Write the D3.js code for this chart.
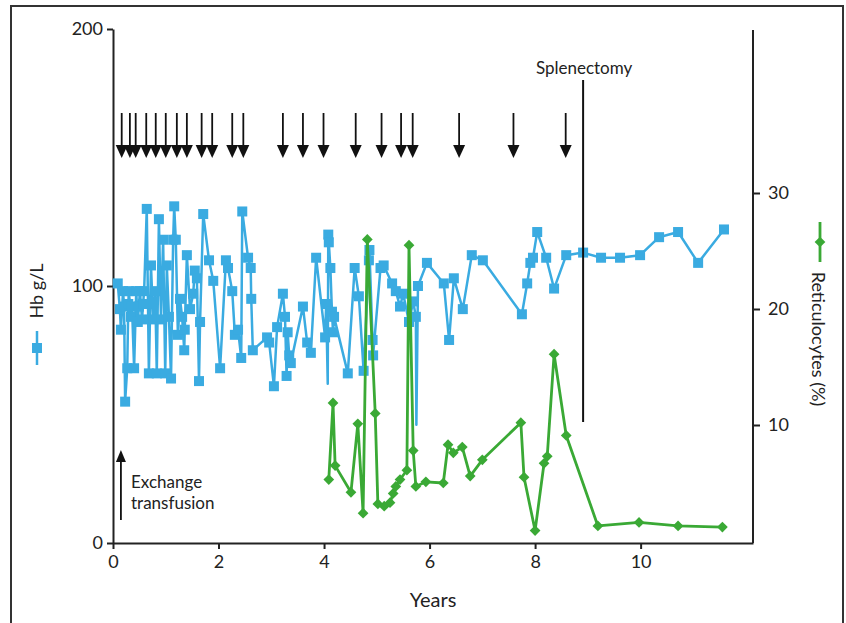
<!DOCTYPE html>
<html>
<head>
<meta charset="utf-8">
<script src="https://cdn.jsdelivr.net/npm/d3@7"></script>
<style>
  body { margin: 0; background: #fff; }
  text { font-family: Lato, "Open Sans", sans-serif; fill: #222; }
</style>
</head>
<body>
<svg id="chart" width="846" height="623"></svg>
<script>
// Hb (g/L) over years; years listed in hbLineOnly get the line but no marker
const hbYears = [0.09,0.13,0.15,0.19,0.21,0.23,0.27,0.29,0.30,0.34,0.36,0.40,0.44,0.47,0.49,0.51,0.55,0.57,0.59,0.64,0.68,0.72,0.76,0.80,0.83,0.87,
  0.91,0.95,0.99,1.02,1.06,1.10,1.14,1.16,1.19,1.23,1.27,1.31,1.35,1.36,1.40,1.46,1.52,1.55,1.59,1.63,
  1.65,1.71,1.82,1.90,2.03,2.14,2.18,2.26,2.31,2.37,2.43,2.45,2.56,2.61,2.62,2.65,2.92,2.96,3.05,3.11,
  3.22,3.26,3.29,3.31,3.34,3.37,3.60,3.68,3.75,3.85,4.02,4.04,4.07,4.08,4.09,4.12,4.15,4.17,4.19,4.45,
  4.58,4.66,4.75,4.85,4.86,4.92,4.93,5.07,5.13,5.29,5.36,5.44,5.50,5.61,5.69,5.74,5.75,5.78,5.95,6.27,
  6.37,6.46,6.63,6.80,7.01,7.75,7.85,7.91,7.96,8.04,8.21,8.36,8.59,8.91,9.25,9.61,9.99,10.35,10.71,11.09,11.58];
const hbValues = [101,91,83,98,92,55,68,93,98,88,92,68,98,86,92,98,87,93,98,130,66,108,87,98,66,126,
  87,118,66,108,88,64,118,131,118,81,95,88,75,83,112,91,97,106,103,63,
  86,128,110,102,68,110,107,98,81,83,72,129,111,107,95,75,80,78,61,84,
  97,88,65,82,73,70,92,78,74,111,80,93,62,120,117,107,90,82,88,66,
  107,96,67,110,114,79,73,107,108,101,98,92,97,86,94,88,46,100,109,101,
  79,103,91,112,110,89,101,109,111,121,111,99,112,113,111,111,112,119,121,109,122];
const hbLineOnly = [4.07, 5.75];

// Reticulocytes (%)
const retYears = [4.09,4.17,4.21,4.51,4.64,4.74,4.82,4.97,5.02,5.14,5.25,5.31,5.36,5.44,5.57,5.61,5.69,5.74,
  5.93,6.26,6.35,6.45,6.62,6.77,7.00,7.73,7.79,8.00,8.17,8.23,8.36,8.59,9.19,9.97,10.71,11.55];
const retValues = [5.3,11.9,6.5,4.2,10.1,2.4,26.0,11.0,3.2,3.0,3.3,4.1,4.7,5.3,6.1,25.5,7.8,4.7,
  5.1,5.0,8.3,7.6,8.1,5.6,7.0,10.2,5.5,0.9,6.7,7.3,16.1,9.1,1.3,1.6,1.3,1.2];

// transfusion arrows (years)
const transfusions = [0.165,0.32,0.43,0.63,0.81,1.0,1.21,1.40,1.68,1.88,2.26,2.47,3.22,3.60,3.99,4.60,5.09,5.46,5.68,6.56,7.59,8.58];
const splenectomyYear = 8.91;
const exchangeYear = 0.15;

const xTicks = [0, 2, 4, 6, 8, 10];
const hbTicks = [0, 100, 200];
const retTicks = [10, 20, 30];

const blue = "#3aabe1";
const green = "#3aa935";

const svg = d3.select("#chart");

// frame
svg.append("rect")
  .attr("x", 11).attr("y", 6).attr("width", 832).attr("height", 650)
  .attr("fill", "none").attr("stroke", "#333").attr("stroke-width", 2);

const x = d3.scaleLinear().domain([0, 12.13]).range([113, 753]);
const yHb = d3.scaleLinear().domain([0, 200]).range([543, 29]);
const yRet = d3.scaleLinear().domain([0, 44]).range([541, 30.6]);

// axes
const axL = svg.append("g").attr("transform", "translate(113,0)")
  .call(d3.axisLeft(yHb).tickValues(hbTicks).tickSize(6).tickSizeOuter(0).tickPadding(4));
const axB = svg.append("g").attr("transform", "translate(0,543)")
  .call(d3.axisBottom(x).tickValues(xTicks).tickSize(6).tickSizeOuter(0).tickPadding(6));
const axR = svg.append("g").attr("transform", "translate(753,0)")
  .call(d3.axisRight(yRet).tickValues(retTicks).tickSize(7).tickSizeOuter(0).tickPadding(8));
axR.select(".domain").attr("d", "M0,543V30");

[axL, axB, axR].forEach(a => {
  a.select(".domain").attr("stroke", "#222").attr("stroke-width", 2);
  a.selectAll(".tick line").attr("stroke", "#222").attr("stroke-width", 2);
  a.selectAll("text").style("font-family", "Lato, sans-serif").style("font-size", "18px").attr("fill", "#222");
});

// Hb series
const hbData = hbYears.map((d, i) => ({ t: d, v: hbValues[i], mark: !hbLineOnly.includes(d) }));
const hbLine = d3.line().x(d => x(d.t)).y(d => yHb(d.v));
svg.append("path").datum(hbData)
  .attr("d", hbLine).attr("fill", "none")
  .attr("stroke", blue).attr("stroke-width", 2.5).attr("stroke-linejoin", "round");
svg.append("g").selectAll("rect")
  .data(hbData.filter(d => d.mark))
  .enter().append("rect")
  .attr("x", d => x(d.t) - 5).attr("y", d => yHb(d.v) - 5)
  .attr("width", 10).attr("height", 10)
  .attr("fill", blue);

// Reticulocyte series
const retData = retYears.map((d, i) => ({ t: d, v: retValues[i] }));
const retLine = d3.line().x(d => x(d.t)).y(d => yRet(d.v));
svg.append("path").datum(retData)
  .attr("d", retLine).attr("fill", "none")
  .attr("stroke", green).attr("stroke-width", 2.8).attr("stroke-linejoin", "round");
svg.append("g").selectAll("rect")
  .data(retData)
  .enter().append("rect")
  .attr("x", -3.8).attr("y", -3.8).attr("width", 7.6).attr("height", 7.6)
  .attr("transform", d => `translate(${x(d.t)},${yRet(d.v)}) rotate(45)`)
  .attr("fill", green);

// transfusion arrows
const arrows = svg.append("g");
transfusions.forEach(t => {
  const ax = x(t);
  arrows.append("line")
    .attr("x1", ax).attr("x2", ax).attr("y1", 113).attr("y2", 150)
    .attr("stroke", "#111").attr("stroke-width", 1.8);
  arrows.append("path")
    .attr("d", `M${ax - 6},145L${ax + 6},145L${ax},158Z`)
    .attr("fill", "#111");
});

// exchange transfusion arrow
const ex = x(exchangeYear);
svg.append("line").attr("x1", ex).attr("x2", ex).attr("y1", 520).attr("y2", 458)
  .attr("stroke", "#111").attr("stroke-width", 1.8);
svg.append("path").attr("d", `M${ex - 5},462L${ex + 5},462L${ex},450Z`).attr("fill", "#111");
svg.append("text").attr("x", 131).attr("y", 488).style("font-size", "17px").text("Exchange");
svg.append("text").attr("x", 131).attr("y", 509).style("font-size", "17px").text("transfusion");

// splenectomy
const sx = x(splenectomyYear);
svg.append("line").attr("x1", sx).attr("x2", sx).attr("y1", 80).attr("y2", 422)
  .attr("stroke", "#111").attr("stroke-width", 2);
svg.append("text").attr("x", sx + 1).attr("y", 74).attr("text-anchor", "middle")
  .style("font-size", "17px").text("Splenectomy");

// axis titles
svg.append("text").attr("x", 433).attr("y", 607).attr("text-anchor", "middle")
  .style("font-size", "20px").text("Years");

svg.append("text").attr("transform", "translate(43,291) rotate(-90)")
  .attr("text-anchor", "middle").style("font-size", "18px").text("Hb g/L");
svg.append("line").attr("x1", 37).attr("x2", 37).attr("y1", 331).attr("y2", 365)
  .attr("stroke", blue).attr("stroke-width", 2.5);
svg.append("rect").attr("x", 32).attr("y", 343).attr("width", 10).attr("height", 10).attr("fill", blue);

svg.append("text").attr("transform", "translate(812,339) rotate(90)")
  .attr("text-anchor", "middle").style("font-size", "18px").text("Reticulocytes (%)");
svg.append("line").attr("x1", 820).attr("x2", 820).attr("y1", 222).attr("y2", 262)
  .attr("stroke", green).attr("stroke-width", 2.8);
svg.append("rect").attr("x", -3.8).attr("y", -3.8).attr("width", 7.6).attr("height", 7.6)
  .attr("transform", "translate(820,242) rotate(45)").attr("fill", green);
</script>
</body>
</html>
